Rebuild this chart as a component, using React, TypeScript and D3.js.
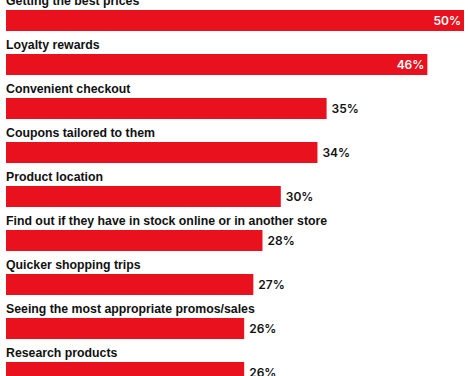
import React from "react";
import * as d3 from "d3";

const categories = [
  "Getting the best prices",
  "Loyalty rewards",
  "Convenient checkout",
  "Coupons tailored to them",
  "Product location",
  "Find out if they have in stock online or in another store",
  "Quicker shopping trips",
  "Seeing the most appropriate promos/sales",
  "Research products",
];
const values = [50, 46, 35, 34, 30, 28, 27, 26, 26];

const W = 470;
const H = 376;
const RED = "#e8111d";

export default function App() {
  const x = d3.scaleLinear().domain([0, 50]).range([6, 464]);
  const y = d3
    .scaleBand<number>()
    .domain(d3.range(categories.length))
    .range([10, 10 + 44 * categories.length])
    .paddingInner(0)
    .paddingOuter(0);
  const barH = 21;
  const font = "'Liberation Sans', Arial, sans-serif";
  const vfont = "Inter, 'Liberation Sans', sans-serif";
  return (
    <svg
      width={W}
      height={H}
      style={{ position: "absolute", left: 0, top: 0, background: "#fff" }}
    >
      {categories.map((c, i) => {
        const y0 = y(i)!;
        const v = values[i];
        const inside = v >= 40;
        return (
          <g key={c}>
            <text
              x={6}
              y={y0 - 5.2}
              fontFamily={font}
              fontWeight={700}
              fontSize={12.3}
              fill="#111"
            >
              {c}
            </text>
            <rect x={x(0)} y={y0} width={x(v) - x(0)} height={barH} fill={RED} />
            <text
              x={inside ? x(v) - 3 : x(v) + 5}
              y={y0 + barH / 2 + 4.3}
              textAnchor={inside ? "end" : "start"}
              fontFamily={vfont}
              fontWeight={600}
              fontSize={12}
              fill={inside ? "#fff" : "#111"}
            >
              {v}%
            </text>
          </g>
        );
      })}
    </svg>
  );
}
